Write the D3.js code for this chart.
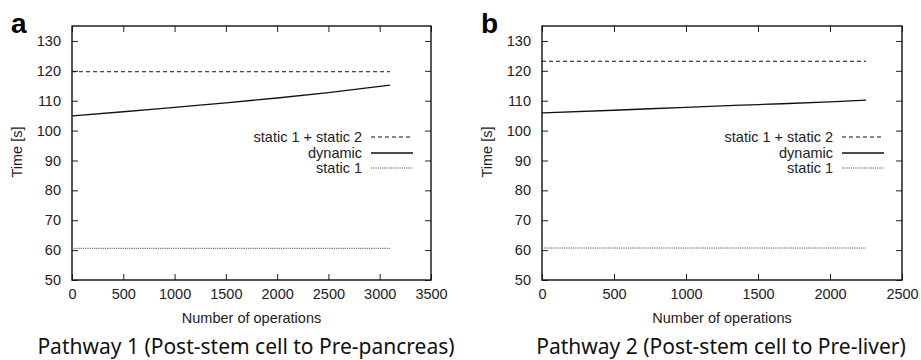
<!DOCTYPE html>
<html>
<head>
<meta charset="utf-8">
<script src="https://cdn.jsdelivr.net/npm/d3@7"></script>
<style>
  body { margin: 0; background: #fff; }
  svg text { font-family: "Liberation Sans", Arial, sans-serif; }
</style>
</head>
<body>
<svg id="chart" width="921" height="360"></svg>
<script>
// data
var panelLetters = ["a", "b"];
var captions = [
  "Pathway 1 (Post-stem cell to Pre-pancreas)",
  "Pathway 2 (Post-stem cell to Pre-liver)"
];
var xTicks1 = [0, 500, 1000, 1500, 2000, 2500, 3000, 3500];
var xTicks2 = [0, 500, 1000, 1500, 2000, 2500];
var yTicks = [50, 60, 70, 80, 90, 100, 110, 120, 130];
var seriesNames = ["static 1 + static 2", "dynamic", "static 1"];

// pathway 1
var ops1 = [0, 500, 1000, 1500, 2000, 2500, 3100];
var dynamic1 = [104.9, 106.3, 107.8, 109.3, 110.9, 112.7, 115.2];
var staticOps1 = [0, 3100];
var static12_1 = [119.7, 119.7];
var static1_1 = [60.6, 60.6];

// pathway 2
var ops2 = [0, 500, 1000, 1500, 2000, 2250];
var dynamic2 = [105.9, 106.8, 107.8, 108.7, 109.6, 110.2];
var staticOps2 = [0, 2250];
var static12_2 = [123.2, 123.2];
var static1_2 = [60.7, 60.7];

var svg = d3.select("#chart");

var panels = [
  { left: 72, right: 431, xMax: 3500, xTicks: xTicks1, letter: panelLetters[0], caption: captions[0], capX: 246,
    ops: ops1, dyn: dynamic1, sOps: staticOps1, s12: static12_1, s1: static1_1 },
  { left: 542, right: 902, xMax: 2500, xTicks: xTicks2, letter: panelLetters[1], caption: captions[1], capX: 721,
    ops: ops2, dyn: dynamic2, sOps: staticOps2, s12: static12_2, s1: static1_2 }
];

var plotTop = 26, plotBottom = 280;

var styles = [
  { dash: "4,3", color: "#111", width: 1 },
  { dash: null, color: "#111", width: 1.3 },
  { dash: "1.2,1", color: "#555", width: 1 }
];

panels.forEach(function (p) {
  var g = svg.append("g");
  var x = d3.scaleLinear().domain([0, p.xMax]).range([p.left, p.right]);
  var y = d3.scaleLinear().domain([50, 135]).range([plotBottom, plotTop]);

  // axes with inward ticks
  var xAxis = g.append("g")
    .attr("transform", "translate(0," + plotBottom + ")")
    .call(d3.axisBottom(x).tickValues(p.xTicks).tickFormat(d3.format("d"))
      .tickSizeInner(-6).tickSizeOuter(0).tickPadding(9));
  var xTop = g.append("g")
    .attr("transform", "translate(0," + plotTop + ")")
    .call(d3.axisTop(x).tickValues(p.xTicks).tickSizeInner(-6).tickSizeOuter(0).tickFormat(""));
  var yAxis = g.append("g")
    .attr("transform", "translate(" + p.left + ",0)")
    .call(d3.axisLeft(y).tickValues(yTicks).tickFormat(d3.format("d"))
      .tickSizeInner(-6).tickSizeOuter(0).tickPadding(11));
  var yRight = g.append("g")
    .attr("transform", "translate(" + p.right + ",0)")
    .call(d3.axisRight(y).tickValues(yTicks).tickSizeInner(-6).tickSizeOuter(0).tickFormat(""));

  [xAxis, xTop, yAxis, yRight].forEach(function (a) {
    a.select(".domain").remove();
    a.selectAll("line").attr("stroke", "#222").attr("stroke-width", 1);
    a.selectAll("text").attr("fill", "#222").style("font-size", "14.5px");
  });

  // frame
  g.append("rect")
    .attr("x", p.left)
    .attr("y", plotTop)
    .attr("width", p.right - p.left)
    .attr("height", plotBottom - plotTop)
    .attr("fill", "none")
    .attr("stroke", "#111")
    .attr("stroke-width", 1.4);

  var line = d3.line()
    .curve(d3.curveMonotoneX)
    .x(function (d) { return x(d[0]); })
    .y(function (d) { return y(d[1]); });

  var series = [
    d3.zip(p.sOps, p.s12),
    d3.zip(p.ops, p.dyn),
    d3.zip(p.sOps, p.s1)
  ];

  series.forEach(function (s, i) {
    g.append("path")
      .datum(s)
      .attr("d", line)
      .attr("fill", "none")
      .attr("stroke", styles[i].color)
      .attr("stroke-width", styles[i].width)
      .attr("stroke-dasharray", styles[i].dash);
  });

  // legend
  var legendRows = [137, 153, 168];
  seriesNames.forEach(function (name, i) {
    g.append("text")
      .attr("x", p.right - 69)
      .attr("y", legendRows[i] + 5)
      .attr("text-anchor", "end")
      .style("font-size", "14.5px")
      .attr("fill", "#222")
      .text(name);
    g.append("line")
      .attr("x1", p.right - 60)
      .attr("x2", p.right - 18)
      .attr("y1", legendRows[i])
      .attr("y2", legendRows[i])
      .attr("stroke", styles[i].color)
      .attr("stroke-width", styles[i].width)
      .attr("stroke-dasharray", styles[i].dash);
  });

  // axis titles
  g.append("text")
    .attr("transform", "translate(" + (p.left - 50) + ",152) rotate(-90)")
    .attr("text-anchor", "middle")
    .style("font-size", "14.5px")
    .attr("fill", "#222")
    .text("Time [s]");
  g.append("text")
    .attr("x", (p.left + p.right) / 2)
    .attr("y", 323)
    .attr("text-anchor", "middle")
    .style("font-size", "14.5px")
    .attr("fill", "#222")
    .text("Number of operations");

  // panel letter
  g.append("text")
    .attr("x", p.left - 61)
    .attr("y", 33)
    .style("font-size", "28px")
    .style("font-weight", "bold")
    .attr("fill", "#000")
    .text(p.letter);

  // caption
  g.append("text")
    .attr("x", p.capX)
    .attr("y", 354)
    .attr("text-anchor", "middle")
    .style("font-family", "'Noto Sans', sans-serif")
    .style("font-size", "21px")
    .attr("fill", "#111")
    .text(p.caption);
});
</script>
</body>
</html>
